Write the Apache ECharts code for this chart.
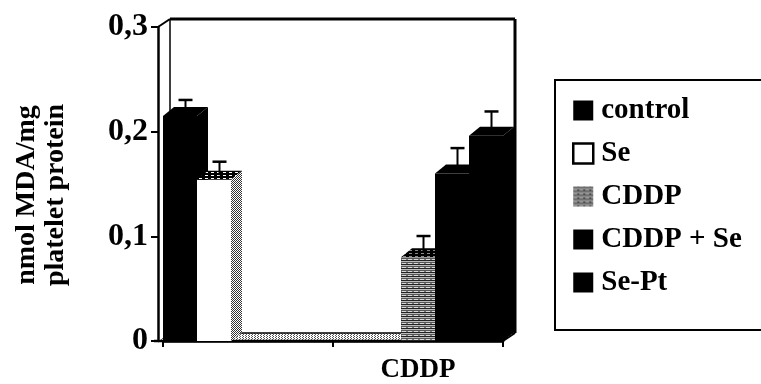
<!DOCTYPE html>
<html>
<head>
<meta charset="utf-8">
<script src="https://cdn.jsdelivr.net/npm/echarts@6/dist/echarts.min.js"></script>
<style>
  html, body { margin: 0; padding: 0; background: #fff; }
  #chart { width: 761px; height: 384px; }
</style>
</head>
<body>
<div id="chart"></div>
<script>
// Categories along the x axis and the five treatment groups
const categories = ['', 'CDDP'];
const seriesNames = ['control', 'Se', 'CDDP', 'CDDP + Se', 'Se-Pt'];

// Mean values (nmol MDA/mg platelet protein), one entry per category
const controlValues = [0.215, null];
const seValues      = [0.154, null];
const cddpValues    = [null, 0.080];
const cddpSeValues  = [null, 0.160];
const sePtValues    = [null, 0.196];

// Error bar heights (upper whisker)
const controlErrors = [0.011, null];
const seErrors      = [0.013, null];
const cddpErrors    = [null, 0.016];
const cddpSeErrors  = [null, 0.020];
const sePtErrors    = [null, 0.019];

// Value axis tick labels (decimal comma)
const yTickLabels = ['0', '0,1', '0,2', '0,3'];
const Y_MAX = 0.3;

// 3D look: depth offsets for bars and the chart walls
const BAR_DX = 11, BAR_DY = -9;
const WALL_DX = 12, WALL_DY = -8;
const AXIS_OFFSET = 5;

const FONT = '"Liberation Serif", "Times New Roman", serif';

function makePattern(w, h, draw) {
  const c = document.createElement('canvas');
  c.width = w; c.height = h;
  const ctx = c.getContext('2d');
  draw(ctx);
  return { image: c, repeat: 'repeat' };
}

const dotGrey = makePattern(2, 2, ctx => {
  ctx.fillStyle = '#ffffff'; ctx.fillRect(0, 0, 2, 2);
  ctx.fillStyle = '#333333'; ctx.fillRect(0, 0, 1, 1); ctx.fillRect(1, 1, 1, 1);
});
const dotLight = makePattern(3, 2, ctx => {
  ctx.fillStyle = '#ffffff'; ctx.fillRect(0, 0, 3, 2);
  ctx.fillStyle = '#555555'; ctx.fillRect(0, 0, 1, 1); ctx.fillRect(2, 1, 1, 1);
});
const stripes = makePattern(6, 4, ctx => {
  ctx.fillStyle = '#222222'; ctx.fillRect(0, 0, 6, 1);
  ctx.fillStyle = '#bbbbbb'; ctx.fillRect(0, 1, 6, 1);
  ctx.fillStyle = '#555555'; ctx.fillRect(0, 2, 6, 1);
  ctx.fillStyle = '#d8d8d8'; ctx.fillRect(0, 3, 4, 1);
  ctx.fillStyle = '#777777'; ctx.fillRect(4, 3, 2, 1);
});
const dashWhite = makePattern(6, 3, ctx => {
  ctx.fillStyle = '#000000'; ctx.fillRect(0, 0, 6, 3);
  ctx.fillStyle = '#ffffff'; ctx.fillRect(1, 1, 3, 1);
});
const dashGrey = makePattern(6, 3, ctx => {
  ctx.fillStyle = '#000000'; ctx.fillRect(0, 0, 6, 3);
  ctx.fillStyle = '#888888'; ctx.fillRect(1, 1, 3, 1);
});

// Face fills for each group: front, top, side
const faceStyles = [
  { front: '#000', top: '#000', side: '#000' },
  { front: '#fff', top: dashWhite, side: dotGrey },
  { front: stripes, top: dashGrey, side: '#333' },
  { front: '#000', top: '#000', side: '#000' },
  { front: '#000', top: '#000', side: '#000' }
];
const legendColors = ['#000', '#fff', stripes, '#000', '#000'];

const valueSets = [controlValues, seValues, cddpValues, cddpSeValues, sePtValues];
const errorSets = [controlErrors, seErrors, cddpErrors, cddpSeErrors, sePtErrors];

function toData(values, errors) {
  const out = [];
  values.forEach((v, i) => { if (v != null) out.push([i, v, errors[i]]); });
  return out;
}

function barRenderer(k) {
  return function (params, api) {
    const cat = api.value(0), v = api.value(1), e = api.value(2);
    const catW = api.size([1, 0])[0];
    const bw = catW / seriesNames.length;
    const base = api.coord([cat, 0]);
    const top = api.coord([cat, v]);
    const x0 = base[0] - catW / 2 + k * bw;
    const x1 = x0 + bw;
    const ty = top[1], by = base[1];
    const st = faceStyles[k];
    const children = [
      { type: 'rect', shape: { x: x0, y: ty, width: bw, height: by - ty }, style: { fill: st.front } },
      { type: 'polygon', shape: { points: [[x0, ty], [x0 + BAR_DX, ty + BAR_DY], [x1 + BAR_DX, ty + BAR_DY], [x1, ty]] }, style: { fill: st.top } },
      { type: 'polygon', shape: { points: [[x1, ty], [x1 + BAR_DX, ty + BAR_DY], [x1 + BAR_DX, by + BAR_DY], [x1, by]] }, style: { fill: st.side } }
    ];
    if (e) {
      const cx = x0 + bw / 2 + BAR_DX / 2;
      const y0 = ty + BAR_DY / 2;
      const y1 = api.coord([cat, v + e])[1] + BAR_DY / 2;
      children.push(
        { type: 'line', shape: { x1: cx, y1: y0, x2: cx, y2: y1 }, style: { stroke: '#000', lineWidth: 2 } },
        { type: 'line', shape: { x1: cx - 7, y1: y1, x2: cx + 7, y2: y1 }, style: { stroke: '#000', lineWidth: 2.5 } }
      );
    }
    return { type: 'group', children };
  };
}

// Back wall, floor and the connecting edges of the 3D box
function frameRenderer(params, api) {
  const catW = api.size([1, 0])[0];
  const c0 = api.coord([0, 0]);
  const cTop = api.coord([0, Y_MAX]);
  const left = c0[0] - catW / 2 - AXIS_OFFSET;
  const right = c0[0] - catW / 2 + catW * categories.length;
  const bottom = c0[1], top = cTop[1];
  const line = (xa, ya, xb, yb, w) => ({ type: 'line', shape: { x1: xa, y1: ya, x2: xb, y2: yb }, style: { stroke: '#000', lineWidth: w } });
  return {
    type: 'group',
    children: [
      { type: 'polygon', shape: { points: [[left, bottom], [left + WALL_DX, bottom + WALL_DY], [right + WALL_DX, bottom + WALL_DY], [right, bottom]] }, style: { fill: dotLight } },
      line(left + WALL_DX, top + WALL_DY, right + WALL_DX, top + WALL_DY, 3),
      line(right + WALL_DX, top + WALL_DY, right + WALL_DX, bottom + WALL_DY, 3),
      line(left + WALL_DX, top + WALL_DY, left + WALL_DX, bottom + WALL_DY, 1.5),
      line(left + WALL_DX, bottom + WALL_DY, right + WALL_DX, bottom + WALL_DY, 1.5),
      line(left, top, left + WALL_DX, top + WALL_DY, 2),
      line(right, bottom, right + WALL_DX, bottom + WALL_DY, 2),
      line(left - 4, bottom, right, bottom, 2.5)
    ]
  };
}

const chart = echarts.init(document.getElementById('chart'), null, { renderer: 'canvas' });

const series = [{
  name: 'frame',
  type: 'custom',
  coordinateSystem: 'cartesian2d',
  renderItem: frameRenderer,
  data: [[0, 0]],
  clip: false,
  silent: true,
  z: 1
}].concat(seriesNames.map((name, k) => ({
  name,
  type: 'custom',
  coordinateSystem: 'cartesian2d',
  renderItem: barRenderer(k),
  encode: { x: 0, y: 1 },
  data: toData(valueSets[k], errorSets[k]),
  itemStyle: { color: legendColors[k] },
  clip: false,
  z: 2 + k
})));

chart.setOption({
  animation: false,
  backgroundColor: '#fff',
  grid: { left: 163, right: 258, top: 27, bottom: 41, containLabel: false },
  xAxis: {
    type: 'category',
    data: categories,
    boundaryGap: true,
    axisLine: { show: true, lineStyle: { color: '#000', width: 2.5 } },
    axisTick: { show: true, length: 6, alignWithLabel: false, lineStyle: { color: '#000', width: 2 } },
    axisLabel: { color: '#000', fontFamily: FONT, fontWeight: 'bold', fontSize: 27, margin: 16 },
    splitLine: { show: false }
  },
  yAxis: {
    type: 'value',
    min: 0,
    max: Y_MAX,
    interval: 0.1,
    offset: AXIS_OFFSET,
    name: 'nmol MDA/mg\nplatelet protein',
    nameLocation: 'middle',
    nameRotate: 90,
    nameGap: 88,
    nameTextStyle: { color: '#000', fontFamily: FONT, fontWeight: 'bold', fontSize: 28, lineHeight: 29, padding: [0, 22, 0, 0] },
    axisLine: { show: true, lineStyle: { color: '#000', width: 2.5 } },
    axisTick: { show: true, length: 7, lineStyle: { color: '#000', width: 2 } },
    axisLabel: {
      color: '#000', fontFamily: FONT, fontWeight: 'bold', fontSize: 32, margin: 10,
      formatter: val => yTickLabels[Math.round(val / 0.1)]
    },
    splitLine: { show: false }
  },
  legend: {
    orient: 'vertical',
    left: 555,
    top: 80,
    padding: [16, 40, 33, 17],
    itemWidth: 20,
    itemHeight: 20,
    itemGap: 14,
    icon: 'rect',
    borderColor: '#000',
    borderWidth: 2,
    backgroundColor: '#fff',
    selectedMode: false,
    textStyle: { color: '#000', fontFamily: FONT, fontWeight: 'bold', fontSize: 29, lineHeight: 28.5, padding: [0, 0, 0, 3] },
    data: seriesNames.map((name, k) => (k === 1
      ? { name, itemStyle: { color: '#fff', borderColor: '#000', borderWidth: 2.5 } }
      : { name, itemStyle: { color: legendColors[k] } }))
  },
  series
});
</script>
</body>
</html>
